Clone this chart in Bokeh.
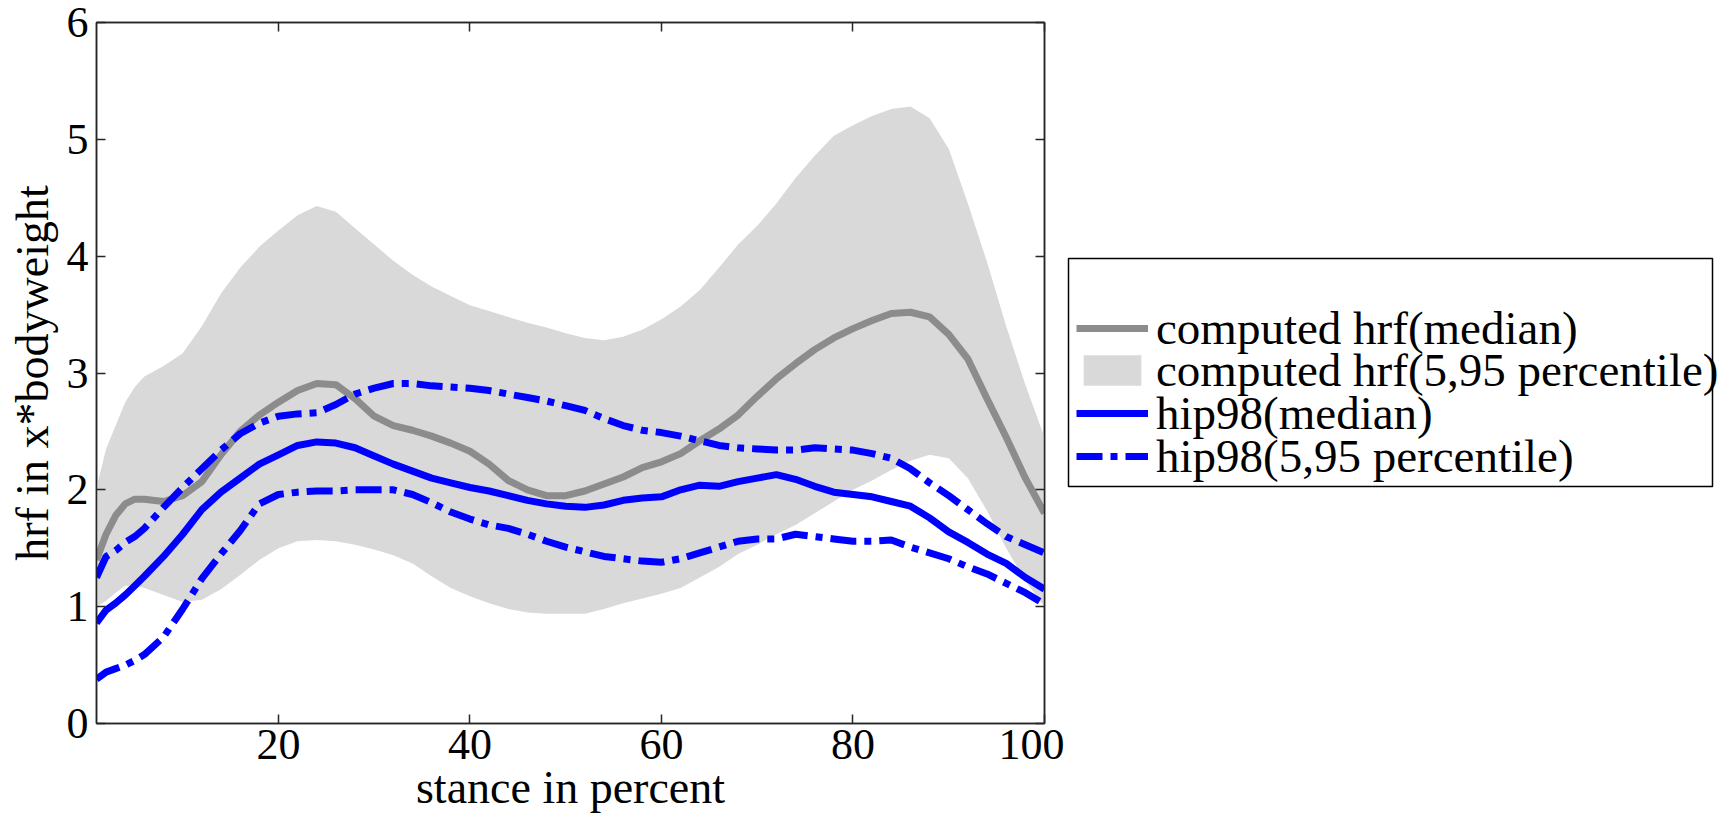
from bokeh.plotting import figure
from bokeh.models import LinearAxis, Range1d, Legend, LegendItem, FixedTicker, BoxAnnotation
from bokeh.layouts import row
from bokeh.embed import file_html
from bokeh.resources import INLINE

# ---- data ----
stance = [1, 2, 3, 4, 5, 6, 8, 10, 12, 14, 16, 18, 20, 22, 24, 26, 28, 30, 32, 34, 36, 38, 40,
          42, 44, 46, 48, 50, 52, 54, 56, 58, 60, 62, 64, 66, 68, 70, 72, 74, 76, 78, 80,
          82, 84, 86, 88, 90, 92, 94, 96, 98, 100]

computed_median = [1.40, 1.62, 1.78, 1.88, 1.92, 1.92, 1.90, 1.95, 2.07, 2.30, 2.50, 2.64, 2.75,
                   2.85, 2.91, 2.90, 2.78, 2.63, 2.55, 2.51, 2.46, 2.40, 2.33, 2.22, 2.08, 2.00,
                   1.95, 1.95, 1.99, 2.05, 2.11, 2.19, 2.24, 2.31, 2.42, 2.52, 2.64, 2.80, 2.95,
                   3.08, 3.20, 3.30, 3.38, 3.45, 3.51, 3.52, 3.48, 3.33, 3.12, 2.78, 2.45, 2.10, 1.80]

computed_p95 = [2.02, 2.35, 2.55, 2.75, 2.88, 2.97, 3.06, 3.17, 3.40, 3.68, 3.90, 4.08, 4.22,
                4.35, 4.43, 4.38, 4.24, 4.10, 3.96, 3.84, 3.74, 3.66, 3.58, 3.53, 3.48, 3.43,
                3.39, 3.34, 3.30, 3.28, 3.31, 3.37, 3.46, 3.57, 3.71, 3.90, 4.10, 4.26, 4.45,
                4.67, 4.86, 5.03, 5.12, 5.20, 5.26, 5.28, 5.18, 4.92, 4.45, 3.95, 3.40, 2.90, 2.45]

computed_p5 = [1.00, 1.05, 1.12, 1.18, 1.18, 1.16, 1.10, 1.04, 1.06, 1.15, 1.27, 1.40, 1.50,
               1.56, 1.57, 1.56, 1.53, 1.49, 1.44, 1.37, 1.26, 1.16, 1.09, 1.03, 0.98, 0.95,
               0.94, 0.94, 0.94, 0.98, 1.03, 1.07, 1.11, 1.16, 1.25, 1.34, 1.45, 1.53, 1.62,
               1.70, 1.80, 1.90, 2.00, 2.08, 2.17, 2.25, 2.30, 2.27, 2.10, 1.82, 1.50, 1.22, 1.00]

hip98_median = [0.86, 0.97, 1.03, 1.10, 1.18, 1.26, 1.43, 1.62, 1.83, 1.98, 2.10, 2.22, 2.30,
                2.38, 2.41, 2.40, 2.36, 2.29, 2.22, 2.16, 2.10, 2.06, 2.02, 1.99, 1.95, 1.91,
                1.88, 1.86, 1.85, 1.87, 1.91, 1.93, 1.94, 2.00, 2.04, 2.03, 2.07, 2.10, 2.13,
                2.09, 2.03, 1.98, 1.96, 1.94, 1.90, 1.86, 1.76, 1.64, 1.55, 1.45, 1.37, 1.25, 1.15]

hip98_p95 = [1.25, 1.43, 1.48, 1.55, 1.60, 1.67, 1.85, 2.02, 2.18, 2.34, 2.48, 2.57, 2.63,
             2.65, 2.66, 2.73, 2.82, 2.87, 2.91, 2.91, 2.89, 2.88, 2.87, 2.85, 2.82, 2.79,
             2.76, 2.72, 2.68, 2.61, 2.55, 2.51, 2.49, 2.46, 2.42, 2.38, 2.36, 2.35, 2.34,
             2.34, 2.36, 2.35, 2.34, 2.31, 2.27, 2.18, 2.06, 1.95, 1.83, 1.71, 1.60, 1.53, 1.46]

hip98_p5 = [0.38, 0.44, 0.47, 0.50, 0.54, 0.59, 0.74, 0.98, 1.24, 1.45, 1.65, 1.88, 1.96,
            1.98, 1.99, 1.99, 2.00, 2.00, 2.00, 1.96, 1.89, 1.81, 1.75, 1.70, 1.67, 1.62,
            1.56, 1.51, 1.47, 1.43, 1.41, 1.39, 1.38, 1.41, 1.46, 1.51, 1.56, 1.58, 1.58,
            1.62, 1.60, 1.58, 1.56, 1.56, 1.57, 1.51, 1.46, 1.41, 1.34, 1.28, 1.20, 1.12, 1.02]

x_ticks = [20, 40, 60, 80, 100]
y_ticks = [0, 1, 2, 3, 4, 5, 6]

labels = ["computed hrf(median)", "computed hrf(5,95 percentile)",
          "hip98(median)", "hip98(5,95 percentile)"]

FONT = "Liberation Serif"
DASHDOT = "26 8 7 8"
GRAY_LINE = "#8c8c8c"
GRAY_FILL = "#d9d9d9"
BLUE = "#0000ff"
NAN = float("nan")

# ---------------- main chart ----------------
p = figure(width=1064, height=825, output_backend="svg", toolbar_location=None,
           x_range=Range1d(1, 100), y_range=Range1d(0, 6),
           min_border_left=96, min_border_right=20, min_border_top=22, min_border_bottom=102,
           x_axis_label="stance in percent", y_axis_label="hrf in x*bodyweight")

p.xgrid.visible = False
p.ygrid.visible = False
p.outline_line_color = "#262626"
p.outline_line_width = 1.5
p.background_fill_color = "white"
p.border_fill_color = "white"

p.varea(x=stance, y1=computed_p5, y2=computed_p95, fill_color=GRAY_FILL)
p.line(stance, computed_median, line_color=GRAY_LINE, line_width=7)
p.line(stance, hip98_median, line_color=BLUE, line_width=7)
p.line(stance, hip98_p95, line_color=BLUE, line_width=7, line_dash=DASHDOT)
p.line(stance, hip98_p5, line_color=BLUE, line_width=7, line_dash=DASHDOT)

def style_axis(ax, ticks, show_labels=True):
    ax.ticker = FixedTicker(ticks=ticks)
    ax.major_tick_in = 9
    ax.major_tick_out = 0
    ax.minor_tick_line_color = None
    ax.major_tick_line_color = "#262626"
    ax.major_tick_line_width = 1.5
    ax.axis_line_color = "#262626"
    ax.axis_line_width = 1.5
    ax.major_label_text_font = FONT
    ax.major_label_text_color = "black"
    if show_labels:
        ax.major_label_text_font_size = "44px"
    else:
        ax.major_label_text_font_size = "1px"
        ax.major_label_text_color = None
        ax.major_label_standoff = 0

style_axis(p.xaxis[0], x_ticks)
style_axis(p.yaxis[0], y_ticks)
p.xaxis[0].major_label_standoff = 6
p.yaxis[0].major_label_standoff = 8
for ax in (p.xaxis[0], p.yaxis[0]):
    ax.axis_label_text_font = FONT
    ax.axis_label_text_font_size = "46px"
    ax.axis_label_text_font_style = "normal"
    ax.axis_label_text_color = "black"
    ax.axis_label_standoff = 0
p.yaxis[0].axis_label_standoff = 6

top_ax = LinearAxis(axis_label=None)
style_axis(top_ax, x_ticks, show_labels=False)
p.add_layout(top_ax, "above")
right_ax = LinearAxis(axis_label=None)
style_axis(right_ax, y_ticks, show_labels=False)
p.add_layout(right_ax, "right")

# ---------------- legend panel ----------------
# frame of this panel is aligned with the chart frame (701 px tall); ranges are in pixels
q = figure(width=670, height=825, output_backend="svg", toolbar_location=None,
           x_axis_location=None, y_axis_location=None,
           x_range=Range1d(0, 670), y_range=Range1d(0, 701),
           min_border_left=0, min_border_right=0, min_border_top=22, min_border_bottom=102)
q.xgrid.visible = False
q.ygrid.visible = False
q.outline_line_color = None
q.background_fill_color = "white"
q.border_fill_color = "white"

# legend frame box
q.add_layout(BoxAnnotation(left=4, right=648, bottom=237, top=465,
                           fill_alpha=0, line_color="black", line_width=1.5,
                           line_alpha=1.0, level="underlay"))

# legend proxies: a single NaN point each (nothing drawn), they only carry the styles
lg_gmed = q.line(x=[NAN], y=[NAN], line_color=GRAY_LINE, line_width=7)
lg_band = q.varea(x=[NAN], y1=[NAN], y2=[NAN], fill_color=GRAY_FILL)
lg_bmed = q.line(x=[NAN], y=[NAN], line_color=BLUE, line_width=7)
lg_bpct = q.line(x=[NAN], y=[NAN], line_color=BLUE, line_width=7, line_dash=DASHDOT)

proxies = [lg_gmed, lg_band, lg_bmed, lg_bpct]
row_bottoms = [368, 326, 283, 240]   # legend row positions (px above frame bottom)

for lab, rend, vy in zip(labels, proxies, row_bottoms):
    lg = Legend(items=[LegendItem(label=lab, renderers=[rend])], location=(12, vy))
    lg.label_text_font = FONT
    lg.label_text_font_size = "47px"
    lg.label_text_color = "black"
    lg.glyph_width = 72
    lg.glyph_height = 38
    lg.label_standoff = 8
    lg.spacing = 0
    lg.padding = 0
    lg.margin = 0
    lg.border_line_color = None
    lg.background_fill_alpha = 0
    q.add_layout(lg, "center")

layout = row(p, q, spacing=0)
open("out.html", "w").write(file_html(layout, INLINE))
